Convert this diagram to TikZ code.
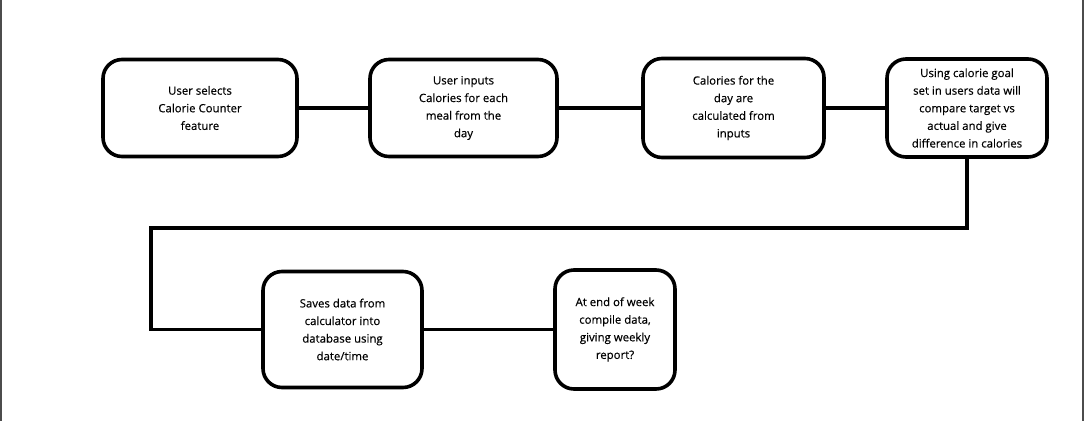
\documentclass[tikz,border=0pt]{standalone}
\usepackage{fontspec}
\setmainfont{Open Sans}[BoldFont=Open Sans, BoldFeatures={FakeBold=0.4}]
\usepackage{tikz}
\usetikzlibrary{positioning}

\tikzset{
  stepbox/.style={draw, line width=3.6pt, rounded corners=19pt, align=center,
    inner sep=0pt, font=\fontsize{11.4}{17.6}\selectfont\bfseries},
  link/.style={line width=3.6pt}
}

\begin{document}
\begin{tikzpicture}[x=1pt,y=-1pt]
\useasboundingbox (0,0) rectangle (1084,421);
% frame edges
\draw[gray!60!black, line width=1.2pt] (1,0)--(1,421);
\draw[gray!60!black, line width=1.2pt] (1083,0)--(1083,421);

% top row
\node[stepbox, minimum width=194pt, minimum height=97pt] (select) at (200,108)
  {User selects\\Calorie Counter\\feature};
\node[stepbox, minimum width=187pt, minimum height=97pt] (inputs) at (463.5,108)
  {User inputs\\Calories for each\\meal from the\\day};
\node[stepbox, minimum width=181pt, minimum height=99pt] (calc) at (733.5,108)
  {Calories for the\\day are\\calculated from\\inputs};
\node[stepbox, minimum width=160pt, minimum height=98pt] (compare) at (967,108)
  {Using calorie goal\\set in users data will\\compare target vs\\actual and give\\difference in calories};

% bottom row
\node[stepbox, minimum width=159pt, minimum height=116pt] (save) at (342.5,329.5)
  {Saves data from\\calculator into\\database using\\date/time};
\node[stepbox, minimum width=120pt, minimum height=119pt] (report) at (615,329.5)
  {At end of week\\compile data,\\giving weekly\\report?};

% links
\draw[link] (select) -- (inputs);
\draw[link] (inputs) -- (calc);
\draw[link] (calc) -- (compare);
\coordinate (turn) at (151,228);
\draw[link] (compare.south) |- (turn) |- (save.west);
\draw[link] (save) -- (report);
\end{tikzpicture}
\end{document}
